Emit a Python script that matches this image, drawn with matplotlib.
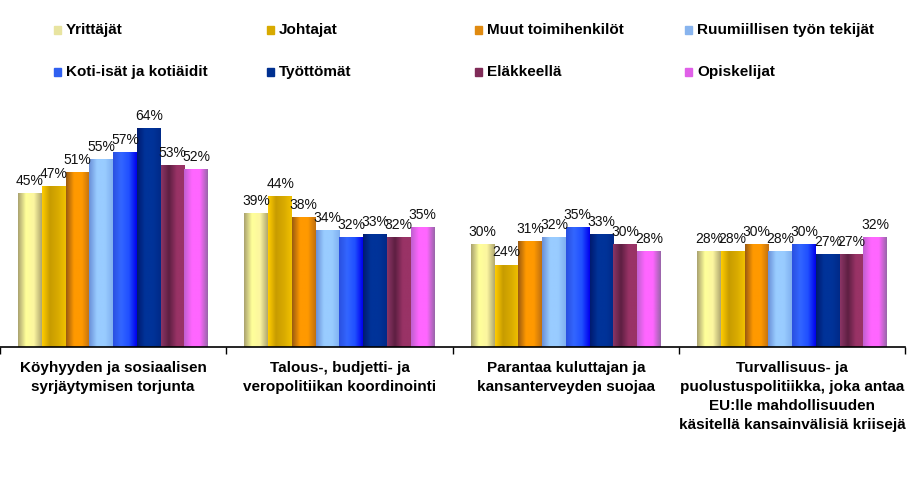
import matplotlib.pyplot as plt
import numpy as np
from matplotlib.colors import LinearSegmentedColormap

categories = [
    'Köyhyyden ja sosiaalisen\nsyrjäytymisen torjunta',
    'Talous-, budjetti- ja\nveropolitiikan koordinointi',
    'Parantaa kuluttajan ja\nkansanterveyden suojaa',
    'Turvallisuus- ja\npuolustuspolitiikka, joka antaa\nEU:lle mahdollisuuden\nkäsitellä kansainvälisiä kriisejä',
]
groups = ['Yrittäjät', 'Johtajat', 'Muut toimihenkilöt', 'Ruumiillisen työn tekijät',
          'Koti-isät ja kotiäidit', 'Työttömät', 'Eläkkeellä', 'Opiskelijat']

yrittajat = [45, 39, 30, 28]
johtajat = [47, 44, 24, 28]
muut_toimihenkilot = [51, 38, 31, 30]
ruumiillisen = [55, 34, 32, 28]
koti = [57, 32, 35, 30]
tyottomat = [64, 33, 33, 27]
elakkeella = [53, 32, 30, 27]
opiskelijat = [52, 35, 28, 32]
values = [yrittajat, johtajat, muut_toimihenkilot, ruumiillisen, koti, tyottomat, elakkeella, opiskelijat]

# horizontal gradient stops across each bar, left to right
gradients = [
    ['#aaa270', '#ffff99', '#fcf6a0', '#b0a870'],
    ['#ffcc00', '#c89c00', '#d8aa00', '#f0c000'],
    ['#9a5a10', '#ff9900', '#ff9900', '#c07010'],
    ['#6a90d8', '#99ccff', '#99ccff', '#80b0f0'],
    ['#2a50e0', '#3366ff', '#2050ff', '#0000ee'],
    ['#001a70', '#003399', '#003399', '#002a88'],
    ['#8a3565', '#5e1f42', '#993366', '#993366'],
    ['#c060d0', '#ff66ff', '#ff66ff', '#9966aa'],
]
legend_colors = ['#e8e4a0', '#d8aa00', '#e08a10', '#88b4ee', '#3060f0', '#003090', '#802c58', '#e060e8']

plt.rcParams['font.family'] = ['Liberation Sans', 'DejaVu Sans']

fig = plt.figure(figsize=(9.08, 4.88), dpi=100)
ax = fig.add_axes([0.0, 0.289, 0.997, 0.49])

x = np.arange(len(categories))
n = len(groups)
bw = 0.84 / n
grad_x = np.linspace(0, 1, 64)

for i, (name, vals) in enumerate(zip(groups, values)):
    pos = x - 0.42 + bw * (i + 0.5)
    bars = ax.bar(pos, vals, bw, color='none', edgecolor='none')
    cmap = LinearSegmentedColormap.from_list(name, gradients[i])
    img = cmap(grad_x)[None, :, :3]
    for b, v in zip(bars, vals):
        bx, bwid = b.get_x(), b.get_width()
        ax.imshow(img, extent=[bx, bx + bwid, 0, b.get_height()], aspect='auto', zorder=2)
        ax.annotate(f'{v}%', (bx + bwid / 2, v), xytext=(0, 4), textcoords='offset points',
                    ha='center', va='bottom', fontsize=10, color='#111111', zorder=3)

ax.set_xlim(-0.5, 3.5)
ax.set_ylim(0, 70)
for s in ['top', 'right', 'left']:
    ax.spines[s].set_visible(False)
ax.spines['bottom'].set_linewidth(1.2)
ax.set_yticks([])
ax.set_xticks(x)
ax.set_xticklabels(categories, fontsize=11, fontweight='bold', linespacing=1.45)
ax.tick_params(axis='x', which='major', length=0, pad=10)
ax.set_xticks(np.arange(-0.5, 4.0, 1.0), minor=True)
ax.tick_params(axis='x', which='minor', length=5, width=1, direction='out')

# legend drawn by hand, 2 rows x 4 columns
leg_x = [57, 270, 478, 688]
leg_y = [30, 72]
for i, name in enumerate(groups):
    px = leg_x[i % 4] / 908
    py = 1 - leg_y[i // 4] / 488
    fig.patches.append(plt.Rectangle((px - 3 / 908, py - 4 / 488), 7 / 908, 8 / 488,
                                     transform=fig.transFigure, color=legend_colors[i]))
    fig.text(px + 9 / 908, py, name, fontsize=11, fontweight='bold', va='center', ha='left')

fig.savefig('out.png', dpi=100)
